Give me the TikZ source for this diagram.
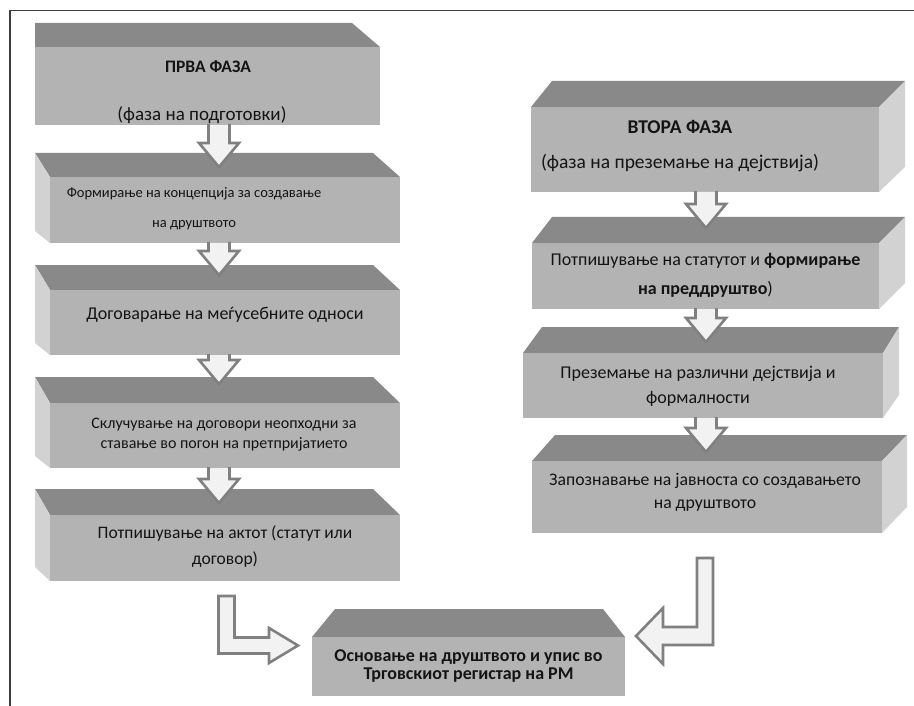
\documentclass[tikz,border=0pt]{standalone}
\usepackage{fontspec}
\setmainfont{Carlito}
\usetikzlibrary{calc}
\definecolor{topc}{RGB}{137,137,137}
\definecolor{frontc}{RGB}{179,179,179}
\definecolor{sidec}{RGB}{210,210,210}
\definecolor{arrfill}{RGB}{242,242,242}
\definecolor{arrline}{RGB}{128,128,128}
\definecolor{framec}{RGB}{60,60,60}
\definecolor{txtc}{RGB}{20,20,20}
\pgfdeclarelayer{bg}
\pgfsetlayers{bg,main}
\newcommand{\ftxt}[3]{\raisebox{#2}[0pt][0pt]{\makebox[0pt]{\kern#1\begin{tabular}{@{}c@{}}#3\end{tabular}\kern-#1}}}
\newcommand{\fsz}[1]{\fontsize{#1}{1.2\dimexpr#1pt\relax}\selectfont}
% top face: node, x offset of top-left corner, x offset of top-right corner, depth
\newcommand{\topface}[4]{\begin{pgfonlayer}{bg}\fill[topc] ($(#1.north west)+(#2,-#4)$) -- ($(#1.north east)+(#3,-#4)$) -- (#1.north east) -- (#1.north west) -- cycle;\end{pgfonlayer}}
\newcommand{\leftside}[4]{\begin{pgfonlayer}{bg}\fill[sidec] ($(#1.north west)+(#2,-#3)$) -- (#1.north west) -- (#1.south west) -- ($(#1.south west)+(#2,-#4)$) -- cycle;\end{pgfonlayer}}
\newcommand{\rightside}[4]{\begin{pgfonlayer}{bg}\fill[sidec] ($(#1.north east)+(#2,-#3)$) -- (#1.north east) -- (#1.south east) -- ($(#1.south east)+(#2,-#4)$) -- cycle;\end{pgfonlayer}}
% straight block arrow: start, tip
\newcommand{\blockdown}[2]{%
  \fill[arrfill] let \p1=#1, \p2=#2 in ({\x1-10.5pt},\y1) -- ({\x1+10.5pt},\y1) -- ({\x1+10.5pt},{\y2+24pt}) -- ({\x1+20pt},{\y2+24pt}) -- (\x1,\y2) -- ({\x1-20pt},{\y2+24pt}) -- ({\x1-10.5pt},{\y2+24pt}) -- cycle;
  \draw[arrowline] let \p1=#1, \p2=#2 in ({\x1-10.5pt},{\y1+1pt}) -- ({\x1-10.5pt},{\y2+24pt}) -- ({\x1-20pt},{\y2+24pt}) -- (\x1,\y2) -- ({\x1+20pt},{\y2+24pt}) -- ({\x1+10.5pt},{\y2+24pt}) -- ({\x1+10.5pt},{\y1+1pt});}
\tikzset{
  front/.style={fill=frontc, draw=none, inner sep=0pt, outer sep=0pt, text=txtc},
  arrowline/.style={draw=arrline, line width=2.6pt, line join=miter},
  barrow/.style={fill=arrfill, arrowline},
}
\begin{document}
\begin{tikzpicture}[x=1pt,y=-1pt, font=\fsz{18}]
\useasboundingbox (0,0) rectangle (914,706);
\draw[framec, line width=1.5pt] (10,706) -- (10,10.5) -- (914,10.5);

% left column
\node[front, minimum width=345pt, minimum height=78pt, font=\fsz{19}] (b1) at (207.5,86)
  {\ftxt{-5.5pt}{-10.25pt}{\kern12pt{\fontsize{17.5}{21}\selectfont\textbf{ПРВА ФАЗА}}\\[25.7pt](фаза на подготовки)}};
\topface{b1}{0}{-28}{24}
\node[front, minimum width=350pt, minimum height=66pt, font=\fsz{14.5}] (b2) at (225,210)
  {\ftxt{-31pt}{-3.1pt}{Формирање на концепција за создавање\\[12.6pt]на друштвото}};
\topface{b2}{-15}{-27}{24}
\leftside{b2}{-15}{24}{12}
\node[front, minimum width=350pt, minimum height=65pt] (b3) at (225,322.5)
  {\ftxt{0pt}{3.5pt}{Договарање на меѓусебните односи}};
\topface{b3}{-15}{-27}{25}
\leftside{b3}{-15}{25}{12}
\node[front, minimum width=350pt, minimum height=65pt, font=\fsz{16}] (b4) at (225,435.5)
  {\ftxt{-1pt}{-3pt}{Склучување на договори неопходни за\\[0.8pt]ставање во погон на претпријатието}};
\topface{b4}{-15}{-27}{26}
\leftside{b4}{-15}{26}{12}
\node[front, minimum width=350pt, minimum height=66pt, font=\fsz{17.5}] (b5) at (225,548)
  {\ftxt{0pt}{-3.9pt}{Потпишување на актот (статут или\\[5pt]договор)}};
\topface{b5}{-15}{-27}{26}
\leftside{b5}{-15}{26}{14}

% right column
\node[front, minimum width=348pt, minimum height=85pt, font=\fsz{19.5}] (r1) at (705,149.5)
  {\ftxt{-25pt}{-2.4pt}{\textbf{ВТОРА ФАЗА}\\[11.6pt](фаза на преземање на дејствија)}};
\topface{r1}{21}{26}{26}
\rightside{r1}{26}{26}{25}
\node[front, minimum width=347pt, minimum height=66pt] (r2) at (705.5,276)
  {\ftxt{0pt}{-4.5pt}{Потпишување на статутот и \textbf{формирање}\\[7.4pt]\textbf{на преддруштво})}};
\topface{r2}{20}{26}{26}
\rightside{r2}{26}{26}{26}
\node[front, minimum width=360pt, minimum height=65pt] (r3) at (703,385.5)
  {\ftxt{-5pt}{-5pt}{Преземање на различни дејствија и\\[3.4pt]формалности}};
\topface{r3}{19}{16}{26}
\rightside{r3}{16}{26}{23}
\node[front, minimum width=350pt, minimum height=72pt, font=\fsz{17.7}] (r4) at (707,497)
  {\ftxt{-2pt}{-0.4pt}{Запознавање на јавноста со создавањето\\[1.8pt]на друштвото}};
\topface{r4}{23}{25}{26}
\rightside{r4}{25}{26}{26}

% final box
\node[front, minimum width=313pt, minimum height=59pt] (fin) at (468.5,666.5)
  {\ftxt{0pt}{-3.5pt}{\textbf{Основање на друштвото и упис во}\\[-3.6pt]\textbf{Трговскиот регистар на РМ}}};
\topface{fin}{23}{-22}{28}

% straight arrows
\blockdown{($(b1.south)+(11.5,0)$)}{($(b2.north)+(-6,-10)$)}
\blockdown{($(b2.south)+(-6,0)$)}{($(b3.north)+(-6,-15)$)}
\blockdown{($(b3.south)+(-6,0)$)}{($(b4.north)+(-6,-19)$)}
\blockdown{($(b4.south)+(-6,0)$)}{($(b5.north)+(-6,-12)$)}
\blockdown{($(r1.south)+(1,0)$)}{($(r2.north)+(0.5,-15)$)}
\blockdown{($(r2.south)+(0.5,0)$)}{($(r3.north)+(3,-11)$)}
\blockdown{($(r3.south)+(3,0)$)}{($(r4.north)+(-1,-9)$)}

% bent arrows
\draw[barrow] let \p1=($(b5.south)+(1.5,15)$), \p2=($(fin.west)+(-14,-21)$) in
  ({\x1-8pt},\y1) -- ({\x1+8pt},\y1) -- ({\x1+8pt},{\y2+8pt}) -- ({\x2-29pt},{\y2+8pt}) -- ({\x2-29pt},{\y2+17.5pt}) -- (\x2,\y2) -- ({\x2-29pt},{\y2-17.5pt}) -- ({\x2-29pt},{\y2-8pt}) -- ({\x1-8pt},{\y2-8pt}) -- cycle;
\draw[barrow] let \p1=($(r4.south)+(-2,25)$), \p2=($(fin.east)+(11,-30.5)$) in
  ({\x1+8pt},\y1) -- ({\x1-8pt},\y1) -- ({\x1-8pt},{\y2+9pt}) -- ({\x2+27pt},{\y2+9pt}) -- ({\x2+27pt},{\y2+28pt}) -- (\x2,\y2) -- ({\x2+27pt},{\y2-28pt}) -- ({\x2+27pt},{\y2-9pt}) -- ({\x1+8pt},{\y2-9pt}) -- cycle;
\end{tikzpicture}
\end{document}
